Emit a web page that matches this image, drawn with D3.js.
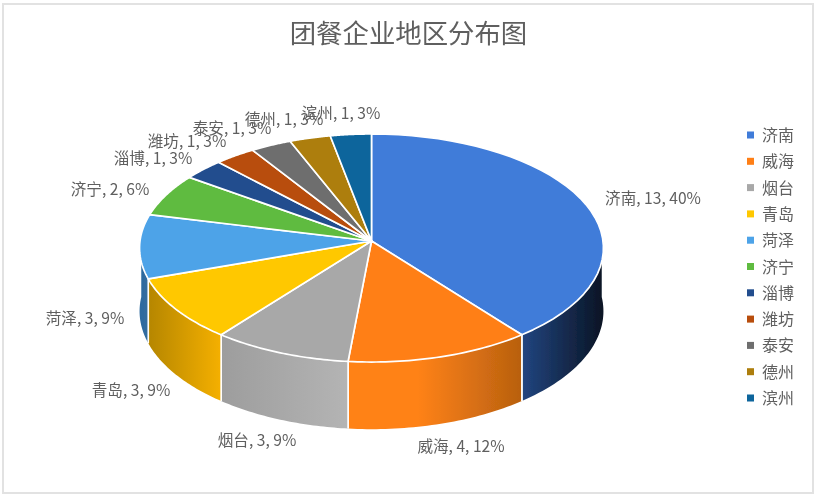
<!DOCTYPE html>
<html><head><meta charset="utf-8">
<script src="https://cdnjs.cloudflare.com/ajax/libs/d3/7.8.5/d3.min.js"></script>
<style>html,body{margin:0;padding:0;background:#fff}svg{display:block}
text{font-family:"Noto Sans CJK SC","Liberation Sans",sans-serif}</style>
</head><body><svg id="c" width="819" height="500"></svg>
<script>
const titleText = "团餐企业地区分布图";
const categories = ["济南","威海","烟台","青岛","菏泽","济宁","淄博","潍坊","泰安","德州","滨州"];
const values = [13,4,3,3,3,2,1,1,1,1,1];
const percents = ["40%","12%","9%","9%","9%","6%","3%","3%","3%","3%","3%"];
const topColors = ["#3f7bd9","#ff7f18","#a8a8a8","#ffc800","#4da3e8","#5fbb40","#234d8e","#b84e08","#6e6e6e","#ad7e0a","#0f659c"];
const wallDark = ["#0a1526","#b8600f","#9d9d9d","#b58600","#2d6a9f","#4a8f30","#1a3a6a","#8a3a06","#555555","#85610a","#0c4d76"];
const wallLight = ["#224580","#ff8218","#b4b4b4","#f5b000","#346d9e","#4a8f30","#1a3a6a","#8a3a06","#555555","#85610a","#0c4d76"];
const labelPos = [[653,199],[461,447],[257,441],[131,391],[85,319],[110,190],[153,159],[187,142],[232,129],[284,120],[341,114]];

const svg = d3.select("#c");
const defs = svg.append("defs");
defs.append("filter").attr("id","soft").append("feGaussianBlur").attr("stdDeviation",0.45);
const root = svg.append("g").attr("filter","url(#soft)");

root.append("rect").attr("x",0).attr("y",0).attr("width",819).attr("height",500).attr("fill","#fff");
root.append("rect").attr("x",3).attr("y",4).attr("width",810).attr("height",489)
  .attr("fill","#fff").attr("stroke","#e2e2e2").attr("stroke-width",2);

// Perspective disc: apex at (cx,cy)
const cx=371.5, cy=241, R=231.5, H=113.6, k=0.0614, D=63;
const pX = a => { const x=Math.sin(a), y=-Math.cos(a); return cx + R*x/(1-k*y); };
const pY = (a,dz=0) => { const y=-Math.cos(a); return cy + (H*y+dz)/(1-k*y); };
const arcs = d3.pie().sort(null).value(d=>d)(values);
const samples = (a0,a1) => d3.range(0,41).map(i=>a0+(a1-a0)*i/40);
const line = d3.line();

// walls (only the front half, from the right extreme round to the left extreme)
const aRight = Math.PI/2 - 0.06, aLeft = 3*Math.PI/2 + 0.06;
arcs.forEach((d,i)=>{
  const a0=Math.max(d.startAngle,aRight), a1=Math.min(d.endAngle,aLeft);
  if(a1<=a0) return;
  const ts=samples(a0,a1);
  const x0=pX(a0), x1=pX(a1);
  const gid="w"+i;
  const g=defs.append("linearGradient").attr("id",gid).attr("gradientUnits","userSpaceOnUse")
    .attr("x1",Math.min(x0,x1)).attr("x2",Math.max(x0,x1)).attr("y1",0).attr("y2",0);
  const [l,r] = i<=1 ? [wallLight[i],wallDark[i]] : [wallDark[i],wallLight[i]];
  g.append("stop").attr("offset",0).attr("stop-color",l);
  if(i===1) g.append("stop").attr("offset",0.4).attr("stop-color",l);
  g.append("stop").attr("offset",1).attr("stop-color",r);
  const top=ts.map(a=>[pX(a),pY(a)]);
  const bot=ts.slice().reverse().map(a=>[pX(a),pY(a,D)]);
  root.append("path").attr("d",line(top.concat(bot))+"Z").attr("fill",`url(#${gid})`);
  // white seam at each slice's vertical edge
  [a0,a1].forEach(a=>{
    if(a===aRight||a===aLeft) return;
    root.append("line").attr("x1",pX(a)).attr("x2",pX(a)).attr("y1",pY(a)).attr("y2",pY(a,D))
      .attr("stroke","#fff").attr("stroke-width",1.6);
  });
});

// top faces
arcs.forEach((d,i)=>{
  const pts=[[cx,cy]].concat(samples(d.startAngle,d.endAngle).map(a=>[pX(a),pY(a)]));
  root.append("path").attr("d",line(pts)+"Z").attr("fill",topColors[i])
    .attr("stroke","#fff").attr("stroke-width",1.7).attr("stroke-linejoin","round");
});

// title
root.append("text").attr("x",408.5).attr("y",43).attr("text-anchor","middle")
  .attr("font-size",26.4).attr("fill","#5f5f5f").text(titleText);

// data labels
categories.forEach((c,i)=>{
  root.append("text").attr("x",labelPos[i][0]).attr("y",labelPos[i][1]+5).attr("text-anchor","middle")
    .attr("font-size",15.6).attr("fill","#5f5f5f")
    .text(`${c}, ${values[i]}, ${percents[i]}`);
});

// legend
const legendY = d3.scalePoint().domain(categories).range([135,398]);
categories.forEach((c,i)=>{
  const y=legendY(c);
  root.append("rect").attr("x",747).attr("y",y-3.5).attr("width",7).attr("height",7).attr("fill",topColors[i]);
  root.append("text").attr("x",762).attr("y",y+6).attr("font-size",16).attr("fill","#5f5f5f").text(c);
});
</script></body></html>
